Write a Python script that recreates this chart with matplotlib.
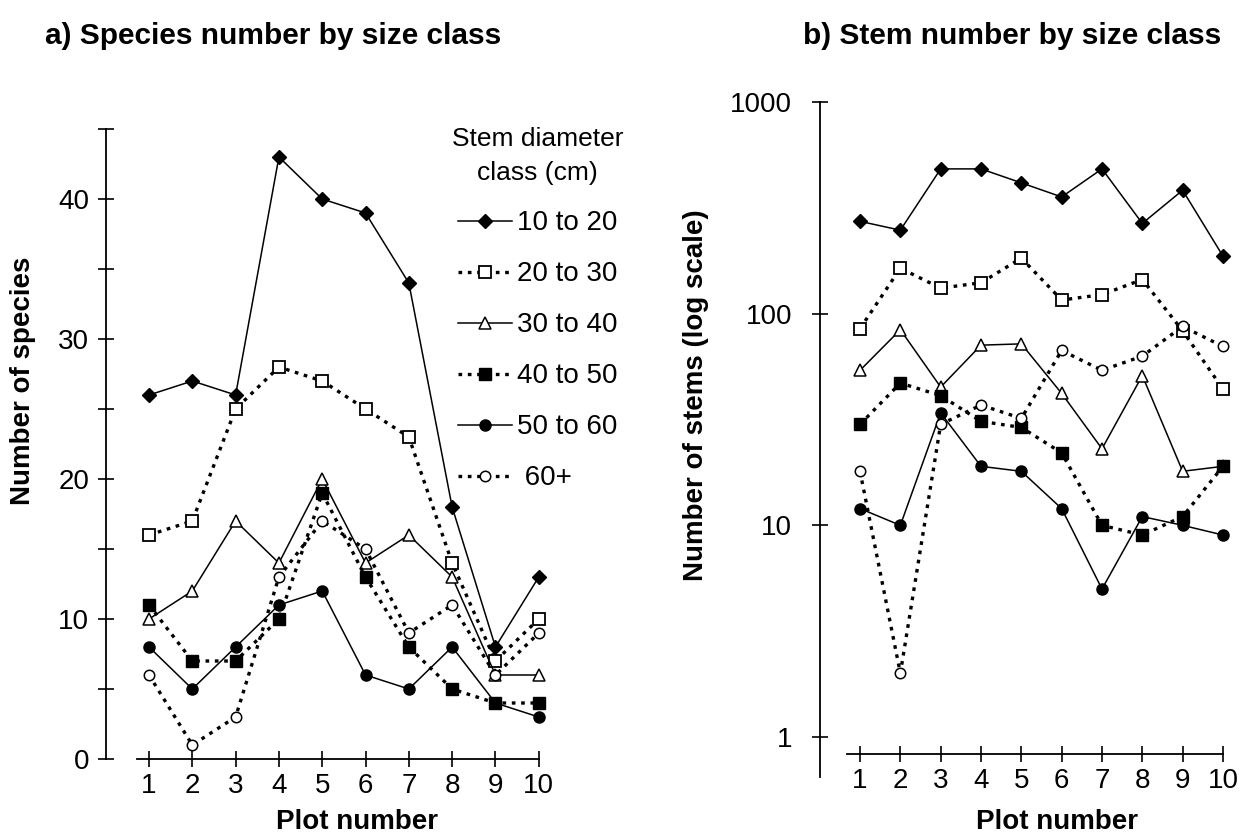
import matplotlib
matplotlib.use("Agg")
import matplotlib.pyplot as plt
from matplotlib.ticker import MultipleLocator, FixedLocator, NullLocator, FuncFormatter

plt.rcParams['font.family'] = ['Liberation Sans', 'DejaVu Sans']

# data
plots = [1, 2, 3, 4, 5, 6, 7, 8, 9, 10]
classes = ['10 to 20', '20 to 30', '30 to 40', '40 to 50', '50 to 60', ' 60+']

species_10_20 = [26, 27, 26, 43, 40, 39, 34, 18, 8, 13]
species_20_30 = [16, 17, 25, 28, 27, 25, 23, 14, 7, 10]
species_30_40 = [10, 12, 17, 14, 20, 14, 16, 13, 6, 6]
species_40_50 = [11, 7, 7, 10, 19, 13, 8, 5, 4, 4]
species_50_60 = [8, 5, 8, 11, 12, 6, 5, 8, 4, 3]
species_60 = [6, 1, 3, 13, 17, 15, 9, 11, 6, 9]

stems_10_20 = [273, 248, 483, 483, 415, 356, 483, 267, 383, 187]
stems_20_30 = [85, 164, 132, 140, 183, 116, 123, 145, 83, 44]
stems_30_40 = [54, 84, 45, 71, 72, 42, 23, 51, 18, 19]
stems_40_50 = [30, 47, 41, 31, 29, 22, 10, 9, 11, 19]
stems_50_60 = [12, 10, 34, 19, 18, 12, 5, 11, 10, 9]
stems_60 = [18, 2, 30, 37, 32, 67, 54, 63, 87, 70]

species = [species_10_20, species_20_30, species_30_40, species_40_50, species_50_60, species_60]
stems = [stems_10_20, stems_20_30, stems_30_40, stems_40_50, stems_50_60, stems_60]

dots = (0, (1.1, 1.7))
styles = [
    dict(ls='-', lw=1.1, marker='D', ms=7, mfc='black', mec='black'),
    dict(ls=dots, lw=2.4, marker='s', ms=8, mfc='white', mec='black', mew=1.3),
    dict(ls='-', lw=1.1, marker='^', ms=9, mfc='white', mec='black', mew=1.1),
    dict(ls=dots, lw=2.4, marker='s', ms=8, mfc='black', mec='black'),
    dict(ls='-', lw=1.1, marker='o', ms=8, mfc='black', mec='black'),
    dict(ls=dots, lw=2.4, marker='o', ms=7.5, mfc='white', mec='black', mew=1.1),
]

W, H = 1247, 835
fig = plt.figure(figsize=(W / 100, H / 100), dpi=100)

# panel a
ax1 = fig.add_axes([105.7 / W, (H - 759) / H, 511 / W, 630 / H])
for vals, lab, st in zip(species, classes, styles):
    ax1.plot(plots, vals, color='black', label=lab, clip_on=False, **st)
ax1.set_xlim(0, 11.8)
ax1.set_ylim(0, 45)
ax1.spines['top'].set_visible(False)
ax1.spines['right'].set_visible(False)
ax1.spines['bottom'].set_bounds(0.72, 10)
ax1.spines['left'].set_linewidth(1.3)
ax1.spines['bottom'].set_linewidth(1.3)
ax1.xaxis.set_major_locator(FixedLocator(plots))
ax1.yaxis.set_major_locator(MultipleLocator(10))
ax1.yaxis.set_minor_locator(MultipleLocator(5))
ax1.tick_params(axis='both', which='both', direction='inout', length=12, width=1.2, labelsize=20)
ax1.tick_params(axis='y', pad=6)
ax1.tick_params(axis='x', pad=4)

leg = ax1.legend(title='Stem diameter\nclass (cm)', frameon=False, fontsize=20, title_fontsize=19,
                 loc='upper left', bbox_to_anchor=((452 - 105.7) / 511, (759 - 127) / 630),
                 handlelength=1.95, handletextpad=0.2, labelspacing=0.9, borderpad=0, borderaxespad=0,
                 alignment='center')
leg.get_title().set_multialignment('center')
leg.get_title().set_linespacing(1.55)

# panel b
ax2 = fig.add_axes([819.7 / W, (H - 776.6) / H, 407.3 / W, 674.6 / H])
for vals, lab, st in zip(stems, classes, styles):
    ax2.plot(plots, vals, color='black', label=lab, clip_on=False, **st)
ax2.set_yscale('log')
ax2.set_xlim(0, 10.1)
ax2.set_ylim(0.65, 1000)
ax2.spines['top'].set_visible(False)
ax2.spines['right'].set_visible(False)
ax2.spines['bottom'].set_position(('data', 0.83))
ax2.spines['bottom'].set_bounds(0.67, 10)
ax2.spines['left'].set_linewidth(1.3)
ax2.spines['bottom'].set_linewidth(1.3)
ax2.xaxis.set_major_locator(FixedLocator(plots))
ax2.yaxis.set_major_locator(FixedLocator([1, 10, 100, 1000]))
ax2.yaxis.set_minor_locator(NullLocator())
ax2.yaxis.set_major_formatter(FuncFormatter(lambda v, p: '%d' % v))
ax2.tick_params(axis='both', which='both', direction='inout', length=12, width=1.2, labelsize=20)
ax2.tick_params(axis='y', pad=14)
ax2.tick_params(axis='x', pad=4)

# titles and axis labels
fig.text(45 / W, 1 - 36 / H, 'a) Species number by size class', fontsize=21.5, fontweight='bold', va='center', ha='left')
fig.text(803 / W, 1 - 36 / H, 'b) Stem number by size class', fontsize=21.5, fontweight='bold', va='center', ha='left')
fig.text(23 / W, 1 - 381 / H, 'Number of species', fontsize=20, fontweight='bold', rotation=90, va='center', ha='center')
fig.text(696 / W, 1 - 395 / H, 'Number of stems (log scale)', fontsize=20, fontweight='bold', rotation=90, va='center', ha='center')
fig.text(357 / W, 1 - 822 / H, 'Plot number', fontsize=20, fontweight='bold', va='center', ha='center')
fig.text(1057 / W, 1 - 822 / H, 'Plot number', fontsize=20, fontweight='bold', va='center', ha='center')

fig.savefig('out.png', dpi=100)
